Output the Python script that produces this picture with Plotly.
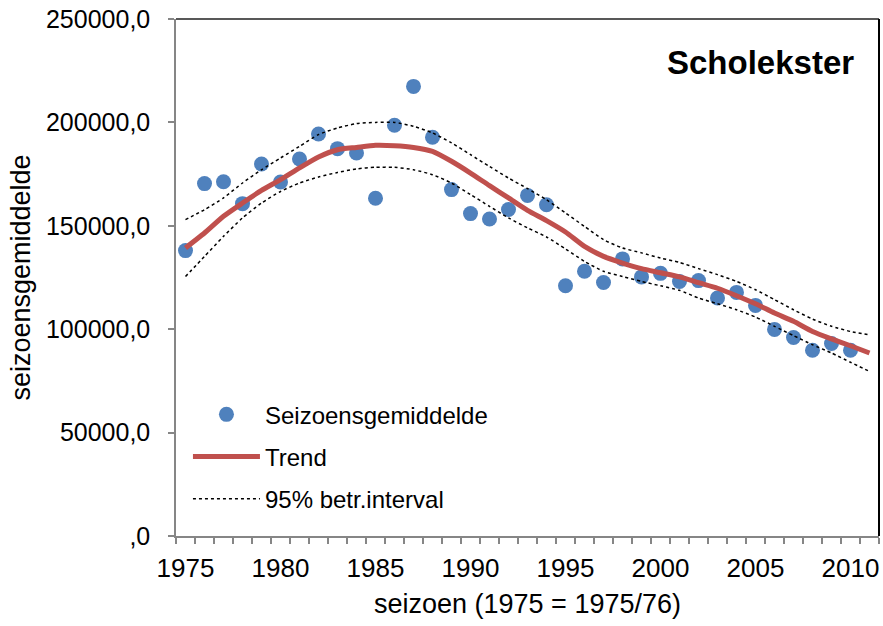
import plotly.graph_objects as go

years_pts = list(range(1975, 2011))
seizoensgemiddelde = [138000, 170400, 171300, 160700, 179900, 171200, 182300, 194400, 187300, 185200,
                      163300, 198600, 217400, 192800, 167500, 155900, 153300, 157900, 164700, 160200,
                      121000, 128000, 122600, 134000, 125300, 127000, 123100, 123500, 115100, 117800,
                      111500, 99900, 96000, 89800, 93100, 89800]

years_line = list(range(1975, 2012))
trend = [139300, 146500, 154600, 161000, 167100, 172300, 178000, 183300, 186800, 187900,
         188900, 188700, 187900, 186000, 181200, 175500, 169400, 163500, 157500, 152500,
         147000, 140000, 135200, 132000, 129300, 127300, 125300, 122500, 119800, 116200,
         112300, 107800, 103800, 98900, 95300, 92000, 88500]
upper = [153000, 157800, 163500, 170700, 177100, 182800, 188400, 194100, 197300, 199400,
         200000, 200000, 198100, 194900, 190100, 184400, 178700, 173100, 168000, 162600,
         156200, 149700, 143300, 139300, 136900, 134400, 132300, 129300, 126400, 123100,
         119100, 114300, 109400, 104900, 101400, 98900, 97300]
lower = [125500, 135200, 144900, 153800, 161000, 166600, 170700, 173600, 175800, 177500,
         178300, 178300, 177100, 174700, 170700, 165100, 159400, 153800, 149000, 144600,
         138800, 132800, 128000, 125500, 123100, 121000, 118800, 115100, 112300, 109400,
         105900, 101400, 96900, 92500, 88500, 84000, 79600]

x_tickvals = [1975, 1980, 1985, 1990, 1995, 2000, 2005, 2010]
x_ticktext = ["1975", "1980", "1985", "1990", "1995", "2000", "2005", "2010"]
y_tickvals = [0, 50000, 100000, 150000, 200000, 250000]
y_ticktext = [",0", "50000,0", "100000,0", "150000,0", "200000,0", "250000,0"]

FONT = "Liberation Sans, Arial, sans-serif"
GREY = "#868686"

fig = go.Figure()
fig.add_trace(go.Scatter(
    x=years_pts, y=seizoensgemiddelde, mode="markers", name="Seizoensgemiddelde",
    marker=dict(color="#4F81BD", size=15, line=dict(width=0)), legendgroup="a"))
fig.add_trace(go.Scatter(
    x=years_line, y=trend, mode="lines", name="Trend",
    line=dict(color="#C0504D", width=5, shape="spline", smoothing=0.6), legendgroup="b"))
fig.add_trace(go.Scatter(
    x=years_line, y=upper, mode="lines", name="95% betr.interval",
    line=dict(color="black", width=1.5, dash="dot", shape="spline", smoothing=0.6), legendgroup="c"))
fig.add_trace(go.Scatter(
    x=years_line, y=lower, mode="lines", name="95% betr.interval", showlegend=False,
    line=dict(color="black", width=1.5, dash="dot", shape="spline", smoothing=0.6), legendgroup="c"))

fig.update_layout(
    width=883, height=626,
    margin=dict(l=176, r=4, t=19, b=90),
    paper_bgcolor="white", plot_bgcolor="white",
    font=dict(family=FONT, size=25, color="black"),
    showlegend=True,
    legend=dict(x=0.017, y=0.278, xanchor="left", yanchor="top", itemwidth=67,
                bgcolor="rgba(0,0,0,0)", font=dict(size=24), tracegroupgap=8),
    annotations=[dict(text="<b>Scholekster</b>", x=0.967, y=0.915, xref="paper", yref="paper",
                      xanchor="right", yanchor="middle", showarrow=False,
                      font=dict(size=33, family=FONT, color="black"))],
    shapes=[
        dict(type="line", xref="paper", yref="paper", x0=0, x1=1, y0=1, y1=1,
             line=dict(color="#202020", width=1.5)),
        dict(type="line", xref="paper", yref="paper", x0=1, x1=1, y0=0, y1=1,
             line=dict(color="black", width=2)),
    ],
)
fig.update_xaxes(
    range=[1974.5, 2011.5], tickvals=x_tickvals, ticktext=x_ticktext,
    showgrid=False, zeroline=False, showline=True, linecolor=GREY, linewidth=1.5,
    ticks="", tickfont=dict(size=26), ticklabelstandoff=8,
    minor=dict(tick0=1974.5, dtick=1, ticks="outside", ticklen=6, tickcolor=GREY, tickwidth=1.5, showgrid=False),
    title=dict(text="seizoen (1975 = 1975/76)", font=dict(size=27), standoff=12),
)
fig.update_yaxes(
    range=[0, 250000], tickvals=y_tickvals, ticktext=y_ticktext,
    showgrid=False, zeroline=False, showline=True, linecolor=GREY, linewidth=1.5,
    ticks="outside", ticklen=6, tickcolor=GREY, tickwidth=1.5, tickfont=dict(size=25),
    ticklabelstandoff=13,
    title=dict(text="seizoensgemiddelde", font=dict(size=27), standoff=8),
)

fig.write_html("out.html", config={"displayModeBar": False},
               post_script="document.body.style.margin='0';")
